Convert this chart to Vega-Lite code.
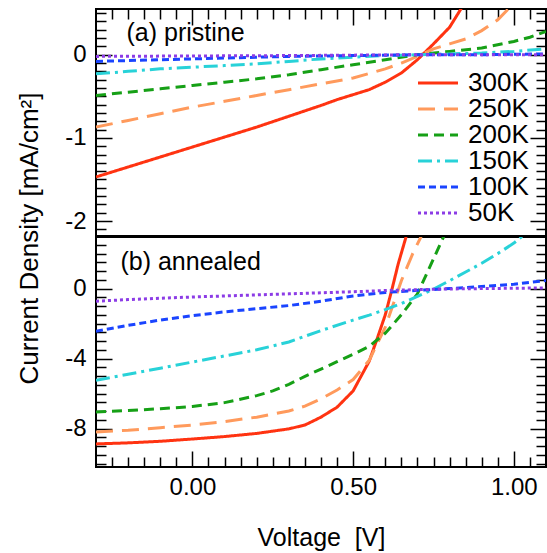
{
  "$schema": "https://vega.github.io/schema/vega-lite/v6.json",
  "padding": {"left": 15, "top": 5, "right": 2, "bottom": 0},
  "bounds": "flush",
  "spacing": 1,
  "resolve": {"scale": {"color": "independent", "strokeDash": "independent"}},
  "config": {
    "font": "Liberation Sans",
    "view": {"stroke": "black", "strokeWidth": 2},
    "axis": {"domain": false, "grid": false, "tickColor": "black", "tickWidth": 1.5, "labelColor": "black", "labelFont": "Liberation Sans", "labelFontSize": 24, "titleFont": "Liberation Sans", "titleFontSize": 25, "titleFontWeight": "normal", "titleColor": "black"}
  },
  "datasets": {
    "pristine": [
      {"T":"300K","V":-0.3,"J":-1.47},{"T":"300K","V":-0.2,"J":-1.35},{"T":"300K","V":-0.1,"J":-1.23},{"T":"300K","V":0,"J":-1.11},{"T":"300K","V":0.1,"J":-0.99},{"T":"300K","V":0.2,"J":-0.87},{"T":"300K","V":0.3,"J":-0.74},{"T":"300K","V":0.4,"J":-0.61},{"T":"300K","V":0.45,"J":-0.54},{"T":"300K","V":0.5,"J":-0.48},{"T":"300K","V":0.55,"J":-0.42},{"T":"300K","V":0.6,"J":-0.33},{"T":"300K","V":0.65,"J":-0.22},{"T":"300K","V":0.7,"J":-0.06},{"T":"300K","V":0.75,"J":0.13},{"T":"300K","V":0.8,"J":0.33},{"T":"300K","V":0.84,"J":0.58},
      {"T":"250K","V":-0.3,"J":-0.87},{"T":"250K","V":-0.2,"J":-0.79},{"T":"250K","V":-0.1,"J":-0.71},{"T":"250K","V":0,"J":-0.63},{"T":"250K","V":0.1,"J":-0.56},{"T":"250K","V":0.2,"J":-0.49},{"T":"250K","V":0.3,"J":-0.42},{"T":"250K","V":0.4,"J":-0.35},{"T":"250K","V":0.5,"J":-0.28},{"T":"250K","V":0.6,"J":-0.17},{"T":"250K","V":0.65,"J":-0.1},{"T":"250K","V":0.7,"J":-0.02},{"T":"250K","V":0.75,"J":0.07},{"T":"250K","V":0.8,"J":0.13},{"T":"250K","V":0.85,"J":0.19},{"T":"250K","V":0.9,"J":0.29},{"T":"250K","V":0.95,"J":0.42},{"T":"250K","V":0.99,"J":0.58},
      {"T":"200K","V":-0.3,"J":-0.49},{"T":"200K","V":-0.2,"J":-0.45},{"T":"200K","V":-0.1,"J":-0.41},{"T":"200K","V":0,"J":-0.37},{"T":"200K","V":0.1,"J":-0.33},{"T":"200K","V":0.2,"J":-0.29},{"T":"200K","V":0.3,"J":-0.24},{"T":"200K","V":0.4,"J":-0.18},{"T":"200K","V":0.5,"J":-0.12},{"T":"200K","V":0.6,"J":-0.06},{"T":"200K","V":0.7,"J":0.0},{"T":"200K","V":0.8,"J":0.04},{"T":"200K","V":0.9,"J":0.08},{"T":"200K","V":1.0,"J":0.16},{"T":"200K","V":1.05,"J":0.21},{"T":"200K","V":1.1,"J":0.28},
      {"T":"150K","V":-0.3,"J":-0.23},{"T":"150K","V":-0.2,"J":-0.2},{"T":"150K","V":-0.1,"J":-0.17},{"T":"150K","V":0,"J":-0.15},{"T":"150K","V":0.1,"J":-0.13},{"T":"150K","V":0.2,"J":-0.11},{"T":"150K","V":0.3,"J":-0.08},{"T":"150K","V":0.4,"J":-0.05},{"T":"150K","V":0.5,"J":-0.03},{"T":"150K","V":0.6,"J":-0.01},{"T":"150K","V":0.7,"J":0.0},{"T":"150K","V":0.8,"J":0.01},{"T":"150K","V":0.9,"J":0.02},{"T":"150K","V":1.0,"J":0.04},{"T":"150K","V":1.1,"J":0.07},
      {"T":"100K","V":-0.3,"J":-0.08},{"T":"100K","V":-0.1,"J":-0.06},{"T":"100K","V":0.1,"J":-0.04},{"T":"100K","V":0.3,"J":-0.02},{"T":"100K","V":0.5,"J":-0.01},{"T":"100K","V":0.7,"J":0.0},{"T":"100K","V":0.9,"J":0.0},{"T":"100K","V":1.1,"J":0.01},
      {"T":"50K","V":-0.3,"J":-0.02},{"T":"50K","V":0.3,"J":-0.01},{"T":"50K","V":0.7,"J":0.0},{"T":"50K","V":1.1,"J":0.0}
    ],
    "annealed": [
      {"T":"300K","V":-0.3,"J":-8.88},{"T":"300K","V":-0.2,"J":-8.82},{"T":"300K","V":-0.1,"J":-8.73},{"T":"300K","V":0,"J":-8.6},{"T":"300K","V":0.1,"J":-8.46},{"T":"300K","V":0.2,"J":-8.28},{"T":"300K","V":0.3,"J":-8.02},{"T":"300K","V":0.35,"J":-7.8},{"T":"300K","V":0.4,"J":-7.35},{"T":"300K","V":0.45,"J":-6.78},{"T":"300K","V":0.5,"J":-5.85},{"T":"300K","V":0.55,"J":-4.15},{"T":"300K","V":0.575,"J":-2.85},{"T":"300K","V":0.6,"J":-1.5},{"T":"300K","V":0.62,"J":-0.1},{"T":"300K","V":0.64,"J":1.4},{"T":"300K","V":0.67,"J":3.3},
      {"T":"250K","V":-0.3,"J":-8.2},{"T":"250K","V":-0.2,"J":-8.1},{"T":"250K","V":-0.1,"J":-7.95},{"T":"250K","V":0,"J":-7.8},{"T":"250K","V":0.1,"J":-7.6},{"T":"250K","V":0.2,"J":-7.35},{"T":"250K","V":0.3,"J":-7.0},{"T":"250K","V":0.35,"J":-6.72},{"T":"250K","V":0.4,"J":-6.3},{"T":"250K","V":0.45,"J":-5.8},{"T":"250K","V":0.5,"J":-5.2},{"T":"250K","V":0.55,"J":-4.1},{"T":"250K","V":0.6,"J":-2.2},{"T":"250K","V":0.65,"J":0.45},{"T":"250K","V":0.685,"J":1.98},{"T":"250K","V":0.72,"J":3.3},
      {"T":"200K","V":-0.3,"J":-7.05},{"T":"200K","V":-0.2,"J":-6.97},{"T":"200K","V":-0.1,"J":-6.87},{"T":"200K","V":0,"J":-6.74},{"T":"200K","V":0.1,"J":-6.52},{"T":"200K","V":0.2,"J":-6.12},{"T":"200K","V":0.25,"J":-5.85},{"T":"200K","V":0.3,"J":-5.47},{"T":"200K","V":0.35,"J":-5.02},{"T":"200K","V":0.4,"J":-4.6},{"T":"200K","V":0.45,"J":-4.18},{"T":"200K","V":0.5,"J":-3.76},{"T":"200K","V":0.55,"J":-3.3},{"T":"200K","V":0.6,"J":-2.55},{"T":"200K","V":0.65,"J":-1.5},{"T":"200K","V":0.7,"J":-0.3},{"T":"200K","V":0.73,"J":0.9},{"T":"200K","V":0.76,"J":2.1},{"T":"200K","V":0.79,"J":3.3},
      {"T":"150K","V":-0.3,"J":-5.24},{"T":"150K","V":-0.2,"J":-4.9},{"T":"150K","V":-0.1,"J":-4.55},{"T":"150K","V":0,"J":-4.2},{"T":"150K","V":0.1,"J":-3.85},{"T":"150K","V":0.2,"J":-3.5},{"T":"150K","V":0.3,"J":-3.05},{"T":"150K","V":0.4,"J":-2.4},{"T":"150K","V":0.5,"J":-1.8},{"T":"150K","V":0.55,"J":-1.52},{"T":"150K","V":0.6,"J":-1.2},{"T":"150K","V":0.65,"J":-0.86},{"T":"150K","V":0.7,"J":-0.45},{"T":"150K","V":0.75,"J":-0.03},{"T":"150K","V":0.8,"J":0.45},{"T":"150K","V":0.85,"J":0.95},{"T":"150K","V":0.9,"J":1.45},{"T":"150K","V":0.95,"J":2.0},{"T":"150K","V":1.0,"J":2.6},{"T":"150K","V":1.04,"J":3.2},
      {"T":"100K","V":-0.3,"J":-2.44},{"T":"100K","V":-0.2,"J":-2.1},{"T":"100K","V":-0.1,"J":-1.8},{"T":"100K","V":0,"J":-1.55},{"T":"100K","V":0.1,"J":-1.33},{"T":"100K","V":0.2,"J":-1.15},{"T":"100K","V":0.3,"J":-0.97},{"T":"100K","V":0.4,"J":-0.72},{"T":"100K","V":0.5,"J":-0.42},{"T":"100K","V":0.6,"J":-0.22},{"T":"100K","V":0.7,"J":-0.1},{"T":"100K","V":0.8,"J":0.0},{"T":"100K","V":0.9,"J":0.12},{"T":"100K","V":1.0,"J":0.25},{"T":"100K","V":1.1,"J":0.46},
      {"T":"50K","V":-0.3,"J":-0.72},{"T":"50K","V":-0.2,"J":-0.63},{"T":"50K","V":-0.1,"J":-0.55},{"T":"50K","V":0,"J":-0.48},{"T":"50K","V":0.1,"J":-0.42},{"T":"50K","V":0.2,"J":-0.36},{"T":"50K","V":0.3,"J":-0.3},{"T":"50K","V":0.4,"J":-0.24},{"T":"50K","V":0.5,"J":-0.18},{"T":"50K","V":0.6,"J":-0.11},{"T":"50K","V":0.7,"J":-0.06},{"T":"50K","V":0.8,"J":-0.02},{"T":"50K","V":0.9,"J":0.0},{"T":"50K","V":1.0,"J":0.02},{"T":"50K","V":1.1,"J":0.04}
    ]
  },
  "vconcat": [
    {
      "width": 450,
      "height": 227,
      "resolve": {"axis": {"x": "independent", "y": "independent"}},
      "layer": [
        {
          "data": {"name": "pristine"},
          "mark": {"type": "line", "strokeWidth": 3, "clip": true},
          "encoding": {
            "x": {"field": "V", "type": "quantitative", "scale": {"domain": [-0.3, 1.1], "nice": false, "zero": false},
              "axis": {"orient": "top", "values": [-0.25,-0.2,-0.15,-0.1,-0.05,0,0.05,0.1,0.15,0.2,0.25,0.3,0.35,0.4,0.45,0.5,0.55,0.6,0.65,0.7,0.75,0.8,0.85,0.9,0.95,1.0,1.05], "labels": false, "title": null,
                "tickSize": {"condition": {"test": "abs(datum.value*2-round(datum.value*2))<0.000001", "value": -16}, "value": -10}}},
            "y": {"field": "J", "type": "quantitative", "scale": {"domain": [-2.18, 0.55], "nice": false, "zero": false},
              "axis": {"orient": "left", "values": [-2.1,-2,-1.9,-1.8,-1.7,-1.6,-1.5,-1.4,-1.3,-1.2,-1.1,-1,-0.9,-0.8,-0.7,-0.6,-0.5,-0.4,-0.3,-0.2,-0.1,0,0.1,0.2,0.3,0.4,0.5],
                "labelExpr": "abs(datum.value-round(datum.value))<0.000001 ? ''+round(datum.value) : ''",
                "labelPadding": 26,
                "tickSize": {"condition": {"test": "abs(datum.value-round(datum.value))<0.000001", "value": -16}, "value": -10},
                "title": "Current Density [mA/cm²]", "titleFontSize": 26, "titleX": -59, "titleY": 229, "titleAngle": -90, "titleAlign": "center", "titleBaseline": "alphabetic"}},
            "color": {"field": "T", "type": "nominal", "sort": ["300K","250K","200K","150K","100K","50K"],
              "scale": {"domain": ["300K","250K","200K","150K","100K","50K"], "range": ["#ff3311","#ff9a5c","#16a016","#28d2d8","#1a44ff","#8c3ce6"]},
              "legend": {"orient": "none", "legendX": 329, "legendY": 61, "title": null, "labelFontSize": 26, "labelFont": "Liberation Sans", "labelColor": "black", "symbolType": "M-2,0H2", "symbolSize": 400, "symbolStrokeWidth": 3, "labelOffset": 17, "rowPadding": 0, "padding": 0}},
            "strokeDash": {"field": "T", "type": "nominal", "sort": ["300K","250K","200K","150K","100K","50K"],
              "scale": {"domain": ["300K","250K","200K","150K","100K","50K"], "range": [[1,0],[17,9],[10,6],[14,5,3,5],[7,4],[3,3]]},
              "legend": {"orient": "none", "legendX": 329, "legendY": 61, "title": null, "labelFontSize": 26, "labelFont": "Liberation Sans", "labelColor": "black", "symbolType": "M-2,0H2", "symbolSize": 400, "symbolStrokeWidth": 3, "labelOffset": 17, "rowPadding": 0, "padding": 0}}
          }
        },
        {
          "data": {"name": "pristine"},
          "mark": {"type": "line", "opacity": 0},
          "encoding": {
            "x": {"field": "V", "type": "quantitative", "scale": {"domain": [-0.3, 1.1], "nice": false, "zero": false}, "axis": null},
            "y": {"field": "J", "type": "quantitative", "scale": {"domain": [-2.18, 0.55], "nice": false, "zero": false},
              "axis": {"orient": "right", "values": [-2.1,-2,-1.9,-1.8,-1.7,-1.6,-1.5,-1.4,-1.3,-1.2,-1.1,-1,-0.9,-0.8,-0.7,-0.6,-0.5,-0.4,-0.3,-0.2,-0.1,0,0.1,0.2,0.3,0.4,0.5], "labels": false, "title": null,
                "tickSize": {"condition": {"test": "abs(datum.value-round(datum.value))<0.000001", "value": -16}, "value": -10}}}
          }
        },
        {
          "data": {"values": [{"V": -0.205, "J": 0.17, "label": "(a) pristine"}]},
          "mark": {"type": "text", "align": "left", "baseline": "alphabetic", "fontSize": 25, "font": "Liberation Sans", "color": "black"},
          "encoding": {
            "x": {"field": "V", "type": "quantitative", "scale": {"domain": [-0.3, 1.1], "nice": false, "zero": false}, "axis": null},
            "y": {"field": "J", "type": "quantitative", "scale": {"domain": [-2.18, 0.55], "nice": false, "zero": false}, "axis": null},
            "text": {"field": "label"}
          }
        }
      ]
    },
    {
      "width": 450,
      "height": 230,
      "resolve": {"axis": {"x": "independent", "y": "independent"}},
      "layer": [
        {
          "data": {"name": "annealed"},
          "mark": {"type": "line", "strokeWidth": 3, "clip": true},
          "encoding": {
            "x": {"field": "V", "type": "quantitative", "scale": {"domain": [-0.3, 1.1], "nice": false, "zero": false},
              "axis": {"orient": "bottom", "values": [-0.25,-0.2,-0.15,-0.1,-0.05,0,0.05,0.1,0.15,0.2,0.25,0.3,0.35,0.4,0.45,0.5,0.55,0.6,0.65,0.7,0.75,0.8,0.85,0.9,0.95,1.0,1.05],
                "labelExpr": "abs(datum.value*2-round(datum.value*2))<0.000001 ? format(datum.value, '.2f') : ''",
                "labelPadding": 24,
                "tickSize": {"condition": {"test": "abs(datum.value*2-round(datum.value*2))<0.000001", "value": -16}, "value": -10},
                "title": "Voltage \u00a0[V]", "titleY": 78, "titleBaseline": "alphabetic"}},
            "y": {"field": "J", "type": "quantitative", "scale": {"domain": [-10.2, 2.95], "nice": false, "zero": false},
              "axis": {"orient": "left", "values": [-10,-9.5,-9,-8.5,-8,-7.5,-7,-6.5,-6,-5.5,-5,-4.5,-4,-3.5,-3,-2.5,-2,-1.5,-1,-0.5,0,0.5,1,1.5,2,2.5],
                "labelExpr": "abs(datum.value/4-round(datum.value/4))<0.000001 ? ''+round(datum.value) : ''",
                "labelPadding": 26,
                "tickSize": {"condition": {"test": "abs(datum.value/4-round(datum.value/4))<0.000001", "value": -16}, "value": -10},
                "title": null}},
            "color": {"field": "T", "type": "nominal", "sort": ["300K","250K","200K","150K","100K","50K"],
              "scale": {"domain": ["300K","250K","200K","150K","100K","50K"], "range": ["#ff3311","#ff9a5c","#16a016","#28d2d8","#1a44ff","#8c3ce6"]},
              "legend": null},
            "strokeDash": {"field": "T", "type": "nominal", "sort": ["300K","250K","200K","150K","100K","50K"],
              "scale": {"domain": ["300K","250K","200K","150K","100K","50K"], "range": [[1,0],[17,9],[10,6],[14,5,3,5],[7,4],[3,3]]},
              "legend": null}
          }
        },
        {
          "data": {"name": "annealed"},
          "mark": {"type": "line", "opacity": 0},
          "encoding": {
            "x": {"field": "V", "type": "quantitative", "scale": {"domain": [-0.3, 1.1], "nice": false, "zero": false}, "axis": null},
            "y": {"field": "J", "type": "quantitative", "scale": {"domain": [-10.2, 2.95], "nice": false, "zero": false},
              "axis": {"orient": "right", "values": [-10,-9.5,-9,-8.5,-8,-7.5,-7,-6.5,-6,-5.5,-5,-4.5,-4,-3.5,-3,-2.5,-2,-1.5,-1,-0.5,0,0.5,1,1.5,2,2.5], "labels": false, "title": null,
                "tickSize": {"condition": {"test": "abs(datum.value/4-round(datum.value/4))<0.000001", "value": -16}, "value": -10}}}
          }
        },
        {
          "data": {"values": [{"V": -0.224, "J": 1.07, "label": "(b) annealed"}]},
          "mark": {"type": "text", "align": "left", "baseline": "alphabetic", "fontSize": 25, "font": "Liberation Sans", "color": "black"},
          "encoding": {
            "x": {"field": "V", "type": "quantitative", "scale": {"domain": [-0.3, 1.1], "nice": false, "zero": false}, "axis": null},
            "y": {"field": "J", "type": "quantitative", "scale": {"domain": [-10.2, 2.95], "nice": false, "zero": false}, "axis": null},
            "text": {"field": "label"}
          }
        }
      ]
    }
  ]
}
